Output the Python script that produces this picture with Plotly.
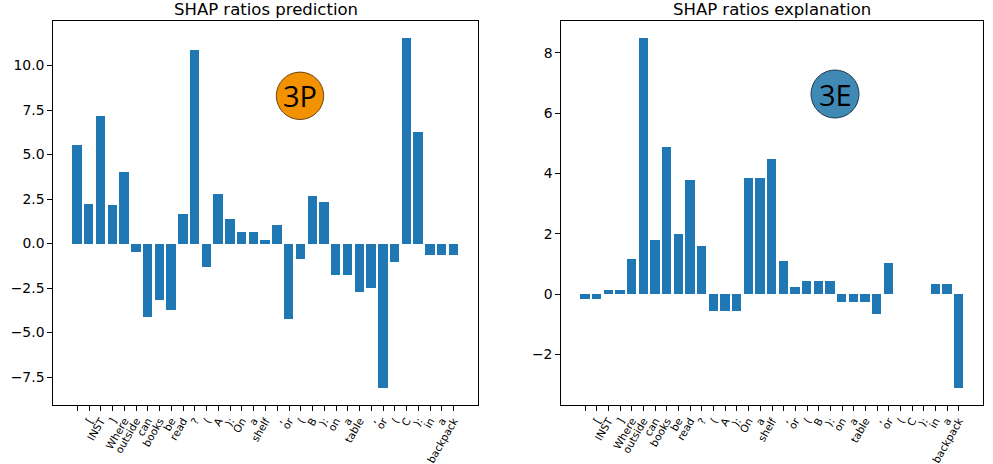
import plotly.graph_objects as go

tokens = ["", "[", "INST", "]", "Where", "outside", "can", "books", "be", "read", "?",
          "(", "A", "):", "On", "a", "shelf", ",", "or", "(", "B", "):", "on", "a", "table",
          ",", "or", "(", "C", "):", "in", "a", "backpack"]

prediction = [5.55, 2.24, 7.17, 2.18, 4.03, -0.45, -4.09, -3.14, -3.70, 1.68, 10.87,
              -1.29, 2.80, 1.40, 0.67, 0.67, 0.22, 1.06, -4.20, -0.84, 2.69, 2.35,
              -1.74, -1.74, -2.69, -2.46, -8.07, -1.01, 11.54, 6.27, -0.62, -0.62, -0.62]

explanation = [-0.16, -0.16, 0.13, 0.13, 1.16, 8.49, 1.79, 4.88, 2.02, 3.79, 1.60,
               -0.56, -0.56, -0.56, 3.86, 3.86, 4.49, 1.12, 0.26, 0.43, 0.43, 0.43,
               -0.26, -0.26, -0.26, -0.66, 1.03, 0.0, 0.0, 0.0, 0.36, 0.36, -3.09]

titles = ["SHAP ratios prediction", "SHAP ratios explanation"]
badges = ["3P", "3E"]

W, H = 993, 464
BAR = "#1f77b4"
FONT = "DejaVu Sans"

def px(x):
    return x / W

def py(y):
    return 1 - y / H

def auto_range(vals, margin=0.05):
    lo, hi = min(vals), max(vals)
    span = hi - lo
    return [lo - margin * span, hi + margin * span]

xs = list(range(len(tokens)))
n = len(tokens)
xrange_ = [-0.4 - 0.05 * (n - 1 + 0.8), n - 1 + 0.4 + 0.05 * (n - 1 + 0.8)]

fig = go.Figure()
fig.add_trace(go.Bar(x=xs, y=prediction, marker_color=BAR, marker_line_width=0,
                     width=0.8, xaxis="x", yaxis="y", showlegend=False))
fig.add_trace(go.Bar(x=xs, y=explanation, marker_color=BAR, marker_line_width=0,
                     width=0.8, xaxis="x2", yaxis="y2", showlegend=False))

ydom = [py(404.7), py(20.7)]
xdom1 = [px(53.3), px(477.7)]
xdom2 = [px(561.3), px(982.7)]

axis_common = dict(showline=True, linecolor="black", linewidth=1.1, mirror=True,
                   ticks="outside", ticklen=5, tickwidth=1.1, tickcolor="black",
                   showgrid=False, zeroline=False)

xcommon = dict(axis_common, tickmode="array", tickvals=xs, ticktext=tokens,
               tickangle=-60, tickfont=dict(family=FONT, size=10.5, color="black"),
               range=xrange_)

fig.update_layout(
    width=W, height=H,
    margin=dict(l=0, r=0, t=0, b=0),
    paper_bgcolor="white", plot_bgcolor="white",
    bargap=0,
    xaxis=dict(xcommon, domain=xdom1, anchor="y"),
    xaxis2=dict(xcommon, domain=xdom2, anchor="y2"),
    yaxis=dict(axis_common, domain=ydom, anchor="x", range=auto_range(prediction),
               tickmode="array", tickvals=[-7.5, -5, -2.5, 0, 2.5, 5, 7.5, 10],
               tickformat=".1f", tickfont=dict(family=FONT, size=13.9, color="black")),
    yaxis2=dict(axis_common, domain=ydom, anchor="x2", range=auto_range(explanation),
                tickmode="array", tickvals=[-2, 0, 2, 4, 6, 8],
                tickformat="d", tickfont=dict(family=FONT, size=13.9, color="black")),
)

annotations = []
for dom, t in zip([xdom1, xdom2], titles):
    annotations.append(dict(text=t, x=(dom[0] + dom[1]) / 2, y=ydom[1], xref="paper",
                            yref="paper", xanchor="center", yanchor="bottom", yshift=0,
                            showarrow=False, font=dict(family=FONT, size=16.5, color="black")))

shapes = []
badge_pos = [(300, 95.8, 23.7, "#f39200", "#6b4410"), (835, 94, 24, "#4189b5", "#1f3a4d")]
for (cx, cy, r, fill, edge), label in zip(badge_pos, badges):
    shapes.append(dict(type="circle", xref="paper", yref="paper",
                       x0=px(cx - r), x1=px(cx + r), y0=py(cy + r), y1=py(cy - r),
                       fillcolor=fill, line=dict(color=edge, width=1)))
    annotations.append(dict(text=label, x=px(cx), y=py(cy), xref="paper", yref="paper",
                            xanchor="center", yanchor="middle", showarrow=False,
                            font=dict(family="Open Sans", size=29, color="black")))

fig.update_layout(annotations=annotations, shapes=shapes)
fig.write_html("out.html", config={"displayModeBar": False},
               post_script="document.body.style.margin='0';document.body.style.overflow='hidden';")
